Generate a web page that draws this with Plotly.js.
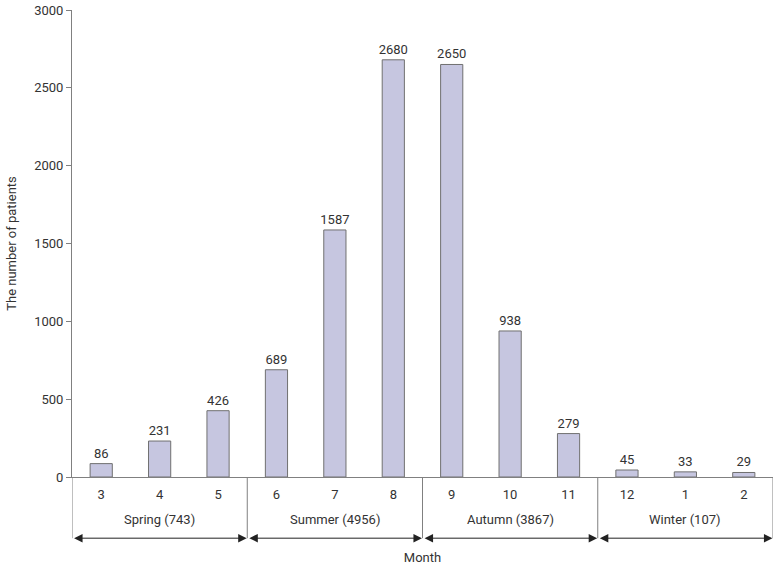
<!DOCTYPE html>
<html><head><meta charset="utf-8">
<script src="https://cdn.plot.ly/plotly-3.0.1.min.js"></script>
<style>body{margin:0;background:#fff}#chart{width:778px;height:567px}</style>
</head><body><div id="chart"></div>
<script>
const months = ["3","4","5","6","7","8","9","10","11","12","1","2"];
const patients = [86,231,426,689,1587,2680,2650,938,279,45,33,29];
const seasons = ["Spring (743)","Summer (4956)","Autumn (3867)","Winter (107)"];
const seasonStart = [0,3,6,9];
const seasonEnd = [2,5,8,11];

const FONT = "Roboto, 'Liberation Sans', sans-serif";
const AX = "#808080";
const boxBottom = -0.131;

const shapes = [];
const annotations = [];
const bounds = [-0.5, 2.5, 5.5, 8.5, 11.5];
bounds.forEach(b => shapes.push({type:'line', xref:'x', yref:'paper', x0:b, x1:b, y0:0, y1:boxBottom, line:{color:AX, width:1}}));
seasons.forEach((s,i) => {
  const l = seasonStart[i]-0.5, r = seasonEnd[i]+0.5;
  annotations.push({xref:'x', yref:'paper', x:(l+r)/2, y:-0.09, yanchor:'middle', text:s, showarrow:false, font:{family:FONT, size:13, color:'#333'}});
  annotations.push({xref:'x', yref:'paper', x:r-0.01, y:boxBottom, axref:'x', ayref:'pixel', ax:l+0.01, ay:0, text:'', showarrow:true, arrowhead:2, arrowside:'end+start', arrowsize:1.7, arrowwidth:1, arrowcolor:'#222', standoff:0, startstandoff:0});
});

const data = [{
  type:'bar', x: months, y: patients, width:0.38,
  marker:{color:'#c6c6e0', line:{color:'#707070', width:1}},
  text: patients.map(String), textposition:'outside', cliponaxis:false, constraintext:'none',
  textfont:{family:FONT, size:13, color:'#333'}, hoverinfo:'x+y'
}];

const layout = {
  width:778, height:567,
  margin:{l:72, r:5, t:10, b:90},
  paper_bgcolor:'#fff', plot_bgcolor:'#fff',
  font:{family:FONT, size:13, color:'#333'},
  showlegend:false,
  xaxis:{type:'category', range:[-0.5,11.5], showline:true, linecolor:AX, linewidth:1,
    ticks:'', showgrid:false, zeroline:false, ticklabelstandoff:5,
    tickfont:{family:FONT, size:13, color:'#333'},
    title:{text:'Month', font:{family:FONT, size:13, color:'#333'}, standoff:52}},
  yaxis:{range:[0,3000], dtick:500, showline:true, linecolor:AX, linewidth:1,
    ticks:'outside', ticklen:5, tickcolor:AX, showgrid:false, zeroline:false,
    tickfont:{family:FONT, size:13, color:'#333'},
    title:{text:'The number of patients', font:{family:FONT, size:13, color:'#333'}, standoff:14}},
  shapes: shapes,
  annotations: annotations
};
Plotly.newPlot('chart', data, layout, {displayModeBar:false, staticPlot:true});
</script></body></html>
